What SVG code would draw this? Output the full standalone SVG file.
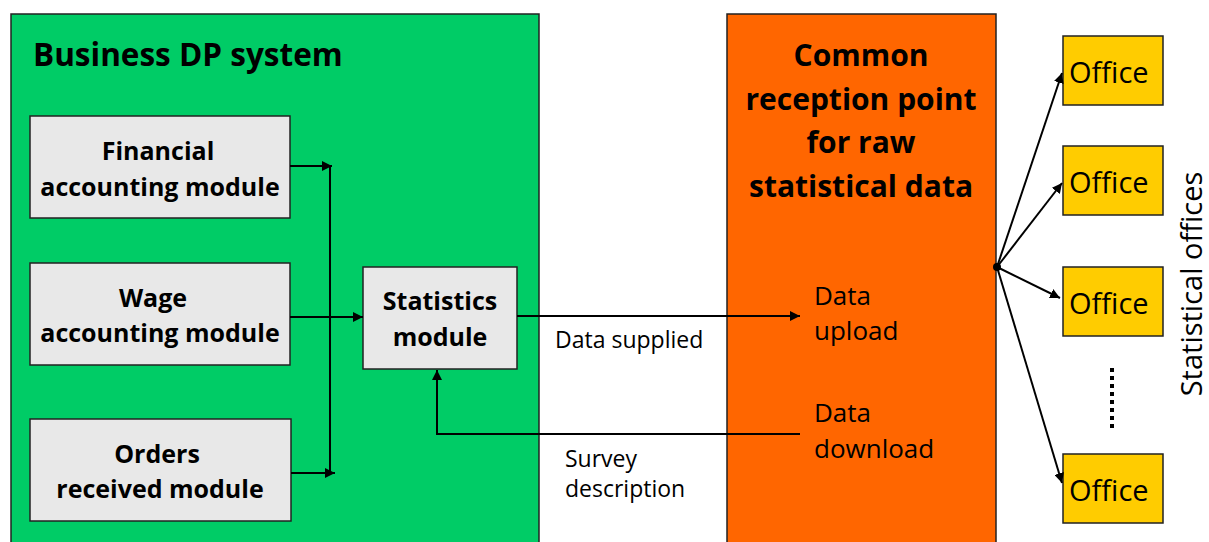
<svg xmlns="http://www.w3.org/2000/svg" width="1209" height="542" viewBox="0 0 1209 542">
<defs>
<marker id="ah" viewBox="0 0 10 10" refX="10" refY="5" markerWidth="10" markerHeight="10" markerUnits="userSpaceOnUse" orient="auto"><path d="M0,0 L10,5 L0,10 z" fill="#000"/></marker>
<style>
text{font-family:"Open Sans","DejaVu Sans",sans-serif;fill:#000}
.mod{fill:#e8e8e8;stroke:#222;stroke-width:1.5}
.mt{font-size:25px;font-weight:bold;text-anchor:middle}
.off{fill:#ffcc00;stroke:#222;stroke-width:1.5}
.ot{font-size:29px}
.ln{stroke:#000;stroke-width:2;fill:none}
.lb{font-size:23px}
.rl{font-size:26px}
.ct{font-size:30px;font-weight:bold;text-anchor:middle}
</style>
</defs>
<rect width="1209" height="542" fill="#fff"/>
<g id="business">
<rect x="11" y="14" width="528" height="540" fill="#00cc66" stroke="#222" stroke-width="1.5"/>
<text x="33" y="66" font-size="31.5" font-weight="bold">Business DP system</text>
</g>
<g id="reception">
<rect x="727" y="14" width="269" height="540" fill="#ff6600" stroke="#222" stroke-width="1.5"/>
<text class="ct" x="861" y="66">Common</text>
<text class="ct" x="861" y="110">reception point</text>
<text class="ct" x="861" y="153">for raw</text>
<text class="ct" x="861" y="197">statistical data</text>
<text class="rl" x="814" y="305">Data</text>
<text class="rl" x="814" y="340">upload</text>
<text class="rl" x="814" y="422">Data</text>
<text class="rl" x="814" y="458">download</text>
</g>
<g id="financial"><rect class="mod" x="30" y="116" width="260" height="102"/><text class="mt" x="158" y="160">Financial</text><text class="mt" x="160" y="196">accounting module</text></g>
<g id="wage"><rect class="mod" x="30" y="263" width="260" height="102"/><text class="mt" x="153" y="307">Wage</text><text class="mt" x="160" y="342">accounting module</text></g>
<g id="orders"><rect class="mod" x="30" y="419" width="261" height="102"/><text class="mt" x="157" y="463">Orders</text><text class="mt" x="160" y="498">received module</text></g>
<g id="statistics"><rect class="mod" x="363" y="267" width="154" height="102"/><text class="mt" x="440" y="310">Statistics</text><text class="mt" x="440" y="346">module</text></g>
<g id="office1"><rect class="off" x="1063" y="36" width="100" height="69"/><text class="ot" x="1069" y="83">Office</text></g>
<g id="office2"><rect class="off" x="1063" y="146" width="100" height="69"/><text class="ot" x="1069" y="193">Office</text></g>
<g id="office3"><rect class="off" x="1063" y="267" width="100" height="69"/><text class="ot" x="1069" y="314">Office</text></g>
<g id="office4"><rect class="off" x="1063" y="454" width="100" height="69"/><text class="ot" x="1069" y="501">Office</text></g>
<text x="1202" y="284" font-size="29" text-anchor="middle" transform="rotate(-90 1202 284)">Statistical offices</text>
<g id="connectors">
<line class="ln" x1="330" y1="166" x2="330" y2="473"/>
<line class="ln" x1="290" y1="166" x2="332" y2="166" marker-end="url(#ah)"/>
<line class="ln" x1="290" y1="317" x2="363" y2="317" marker-end="url(#ah)"/>
<line class="ln" x1="291" y1="473" x2="335" y2="473" marker-end="url(#ah)"/>
<line class="ln" x1="517" y1="316" x2="800" y2="316" marker-end="url(#ah)"/>
<polyline class="ln" points="800,434 437,434 437,370" marker-end="url(#ah)"/>
<circle cx="997" cy="267" r="4" fill="#000"/>
<line class="ln" x1="997" y1="267" x2="1062" y2="73" marker-end="url(#ah)"/>
<line class="ln" x1="997" y1="267" x2="1062" y2="183" marker-end="url(#ah)"/>
<line class="ln" x1="997" y1="267" x2="1060" y2="298" marker-end="url(#ah)"/>
<line class="ln" x1="997" y1="267" x2="1062" y2="483" marker-end="url(#ah)"/>
<line x1="1112" y1="368" x2="1112" y2="430" stroke="#000" stroke-width="4" stroke-dasharray="4,4"/>
<text class="lb" x="555" y="348">Data supplied</text>
<text class="lb" x="565" y="467">Survey</text>
<text class="lb" x="565" y="497">description</text>
</g>
</svg>
